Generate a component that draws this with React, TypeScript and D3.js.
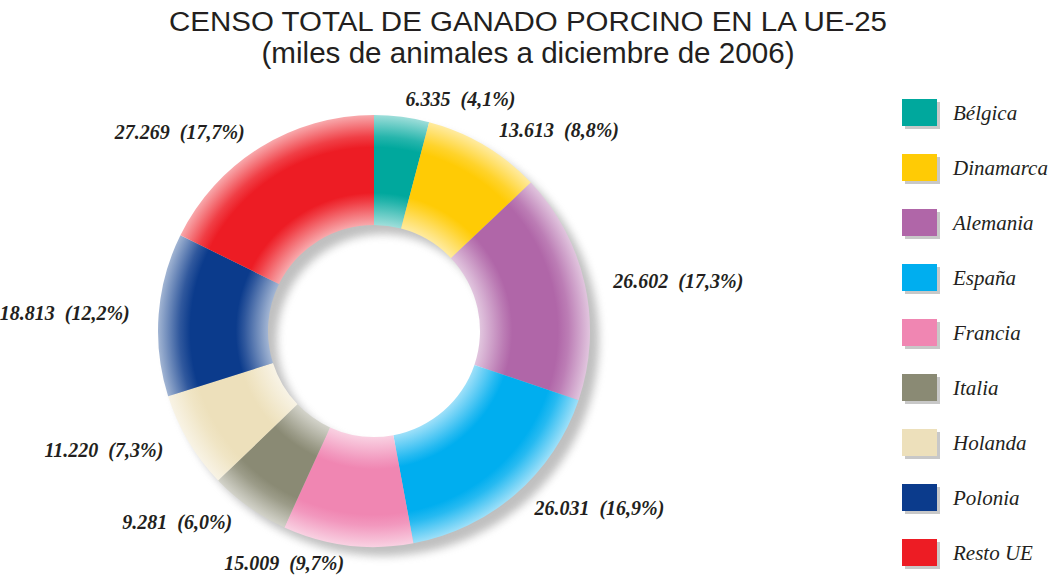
import React from "react";
import * as d3 from "d3";

const categories = ["Bélgica", "Dinamarca", "Alemania", "España", "Francia", "Italia", "Holanda", "Polonia", "Resto UE"];
const values = [6335, 13613, 26602, 26031, 15009, 9281, 11220, 18813, 27269];
const valueLabels = ["6.335", "13.613", "26.602", "26.031", "15.009", "9.281", "11.220", "18.813", "27.269"];
const percentLabels = ["4,1%", "8,8%", "17,3%", "16,9%", "9,7%", "6,0%", "7,3%", "12,2%", "17,7%"];
const colors = ["#00a89d", "#ffcb05", "#b066a8", "#00aeef", "#f086b2", "#8a8a74", "#ede0bb", "#0b3b8c", "#ed1c24"];

const W = 1056;
const H = 577;
const cx = 374;
const cy = 331;
const rOuter = 216;
const rInner = 106;
const rLabelX = 245;
const rLabelY = 234;

export default function App() {
  const pie = d3.pie<number>().sort(null).value((d) => d);
  const arcs = pie(values);
  const arc = d3.arc<d3.PieArcDatum<number>>().innerRadius(rInner).outerRadius(rOuter);
  const ring = d3.arc()({ innerRadius: rInner, outerRadius: rOuter, startAngle: 0, endAngle: 2 * Math.PI } as any) as string;
  const legendY = d3.scaleLinear().domain([0, 1]).range([112.5, 167.5]);
  const light = (c: string, t: number) => d3.interpolateRgb(c, "#ffffff")(t);

  return (
    <svg width={W} height={H} style={{ position: "absolute", left: 0, top: 0, background: "#fff" }}>
      <defs>
        <filter id="blur" x="-20%" y="-20%" width="140%" height="140%">
          <feGaussianBlur stdDeviation="4" />
        </filter>
        {colors.map((c, i) => (
          <radialGradient key={i} id={`g${i}`} gradientUnits="userSpaceOnUse" cx={0} cy={0} r={rOuter}>
            <stop offset={0} stopColor={light(c, 0.6)} />
            <stop offset={rInner / rOuter} stopColor={light(c, 0.62)} />
            <stop offset={0.6} stopColor={light(c, 0.15)} />
            <stop offset={0.64} stopColor={c} />
            <stop offset={0.85} stopColor={c} />
            <stop offset={0.9} stopColor={light(c, 0.15)} />
            <stop offset={1} stopColor={light(c, 0.62)} />
          </radialGradient>
        ))}
      </defs>

      <text x={528} y={31} textAnchor="middle" fontFamily="Liberation Sans, Arial, sans-serif" fontSize={27} fill="#231f20" textLength={718} lengthAdjust="spacingAndGlyphs">
        CENSO TOTAL DE GANADO PORCINO EN LA UE-25
      </text>
      <text x={528} y={63} textAnchor="middle" fontFamily="Liberation Sans, Arial, sans-serif" fontSize={29} fill="#231f20" textLength={533} lengthAdjust="spacingAndGlyphs">
        (miles de animales a diciembre de 2006)
      </text>

      <g transform={`translate(${cx + 9},${cy + 9})`}>
        <path d={ring} fill="#8c8c8c" opacity={0.55} filter="url(#blur)" />
      </g>

      <g transform={`translate(${cx},${cy})`}>
        {arcs.map((a, i) => (
          <path key={i} d={arc(a) as string} fill={`url(#g${i})`} />
        ))}
        {arcs.map((a, i) => {
          const ang = (a.startAngle + a.endAngle) / 2;
          const x = rLabelX * Math.sin(ang);
          const y = -rLabelY * Math.cos(ang);
          return (
            <text
              key={`l${i}`}
              x={x}
              y={y}
              textAnchor={x >= 0 ? "start" : "end"}
              dominantBaseline="central"
              fontFamily="Liberation Serif, Times New Roman, serif"
              fontStyle="italic"
              fontWeight="bold"
              fontSize={20}
              fill="#231f20"
              style={{ whiteSpace: "pre" }}
            >
              {`${valueLabels[i]}  (${percentLabels[i]})`}
            </text>
          );
        })}
      </g>

      <g>
        {categories.map((c, i) => {
          const y = legendY(i);
          return (
            <g key={c}>
              <rect x={905} y={y - 13.5 + 3} width={35} height={27} fill="#c8c8c8" />
              <rect x={902} y={y - 13.5} width={35} height={27} fill={colors[i]} />
              <text x={953} y={y} dominantBaseline="central" fontFamily="Liberation Serif, Times New Roman, serif" fontStyle="italic" fontSize={21} fill="#231f20">
                {c}
              </text>
            </g>
          );
        })}
      </g>
    </svg>
  );
}
